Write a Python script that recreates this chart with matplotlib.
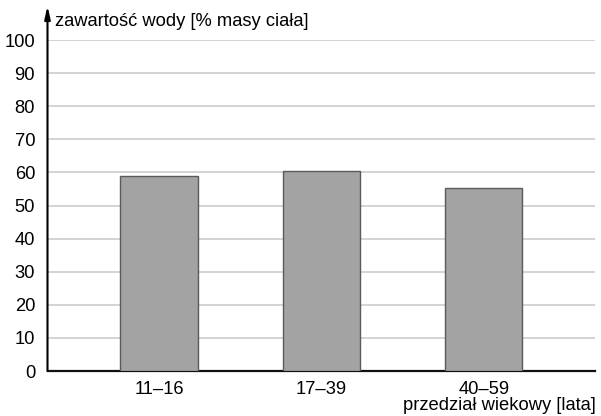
import matplotlib.pyplot as plt

# data
groups = ['11\u201316', '17\u201339', '40\u201359']
water = [59.0, 60.3, 55.2]
yticks = [0, 10, 20, 30, 40, 50, 60, 70, 80, 90, 100]

plt.rcParams['font.family'] = ['Liberation Sans', 'DejaVu Sans']
FS = 13.2

W, H = 601, 416
fig = plt.figure(figsize=(W/100., H/100.), dpi=100)
x0, x1 = 47.5, 595
y0, y1 = 371, 40
ax = fig.add_axes([x0/W, 1 - y0/H, (x1-x0)/W, (y0-y1)/H])

pos = range(len(groups))
ax.bar(pos, water, width=0.475, color='#a3a3a3', edgecolor='#5a5a5a', linewidth=1.0, zorder=3)

ax.set_ylim(0, 100)
ax.set_xlim(-0.687, 2.685)
ax.set_yticks(yticks)
ax.set_xticks(list(pos))
ax.set_xticklabels(groups)
ax.tick_params(axis='both', length=0, labelsize=FS, pad=7)
ax.tick_params(axis='y', pad=9)
ax.yaxis.grid(True, color='#cccccc', linewidth=1.2, zorder=0)
ax.set_axisbelow(True)

for s in ['top', 'right']:
	ax.spines[s].set_visible(False)
ax.spines['left'].set_visible(False)
ax.spines['bottom'].set_linewidth(1.6)
ax.spines['bottom'].set_color('#111111')

# vertical axis with arrow
ax.annotate('', xy=(0, 1.103), xycoords='axes fraction', xytext=(0, 0), textcoords='axes fraction',
	arrowprops=dict(arrowstyle='-|>,head_length=0.75,head_width=0.17', color='black', lw=1.5, shrinkA=0, shrinkB=0),
	annotation_clip=False)

fig.text(55/W, 1 - 22/H, 'zawarto\u015b\u0107 wody [% masy cia\u0142a]', fontsize=FS, va='center', ha='left')
fig.text(596/W, 1 - 405/H, 'przedzia\u0142 wiekowy [lata]', fontsize=FS, va='center', ha='right')

fig.savefig('out.png', dpi=100)
